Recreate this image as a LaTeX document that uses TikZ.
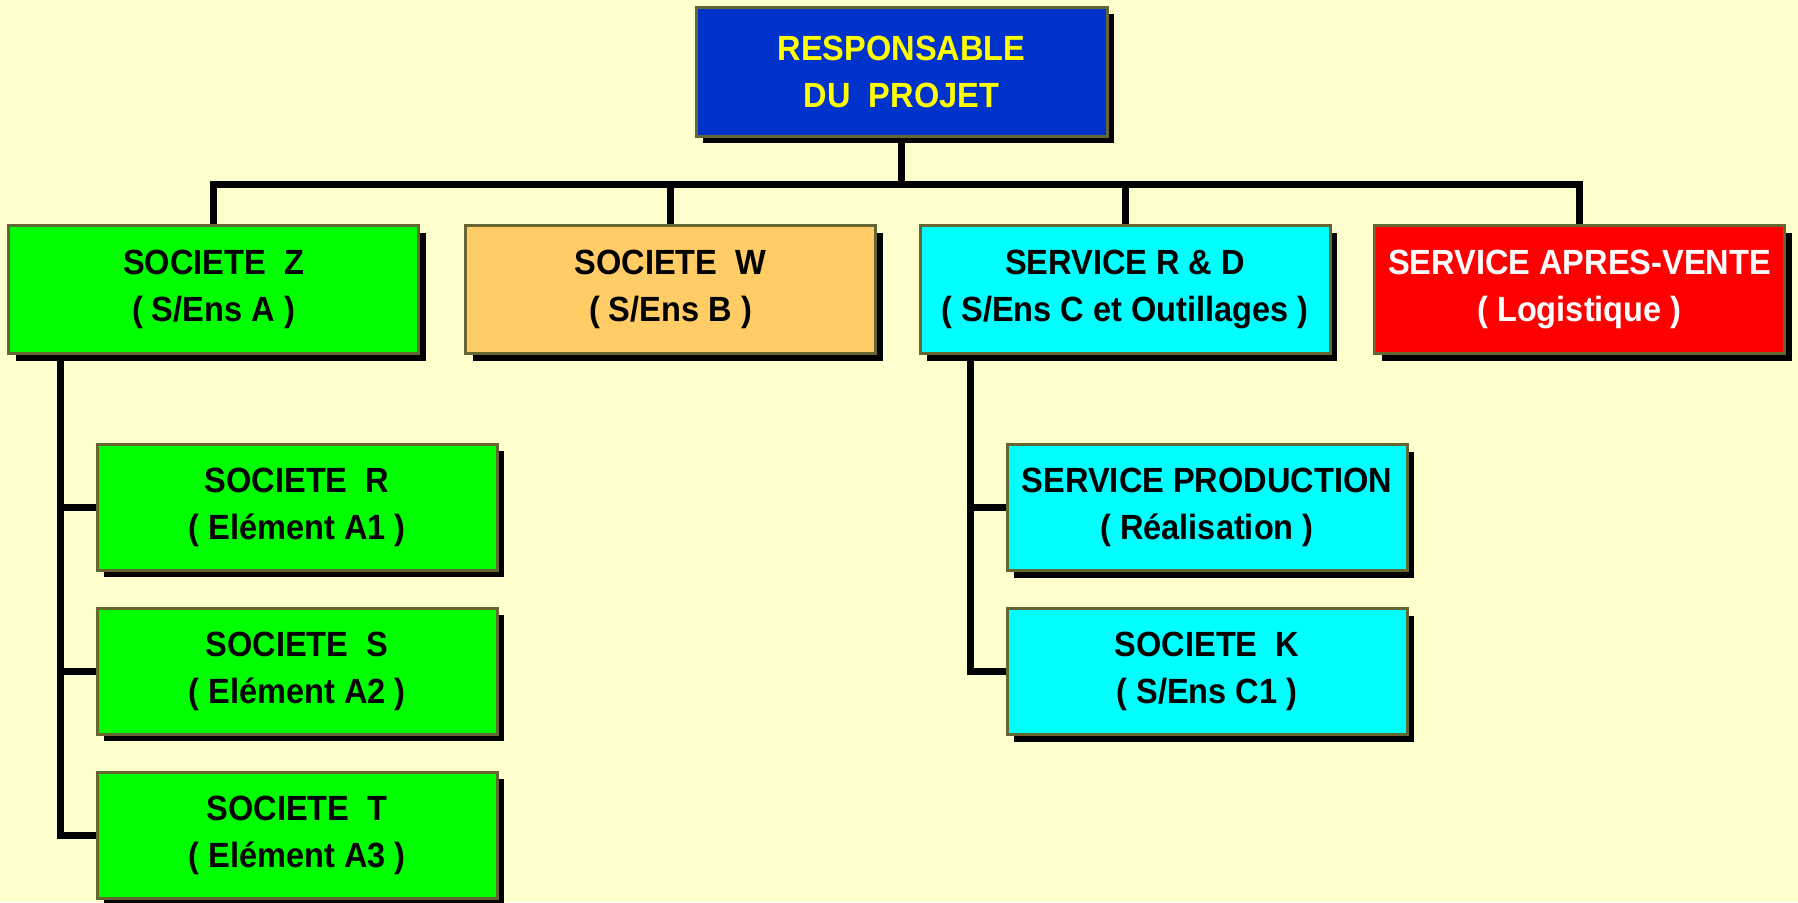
\documentclass[tikz,border=0pt]{standalone}
\usepackage{fontspec}
\setmainfont{Liberation Sans}[FakeStretch=0.93]
\usetikzlibrary{shadows}
\pgfdeclarelayer{bg}
\pgfdeclarelayer{background}
\pgfsetlayers{bg,background,main}
\definecolor{bgyellow}{RGB}{255,255,206}
\definecolor{boxborder}{RGB}{102,102,51}
\definecolor{topblue}{RGB}{0,51,204}
\definecolor{boxgreen}{RGB}{0,255,0}
\definecolor{boxtan}{RGB}{255,204,102}
\definecolor{boxcyan}{RGB}{0,255,255}
\definecolor{boxred}{RGB}{255,0,0}
\definecolor{txtyellow}{RGB}{255,255,0}
\tikzset{
  orgbox/.style={draw=boxborder, line width=3pt, rectangle, align=center,
    minimum width=410pt, minimum height=128pt, inner sep=0pt,
    font=\fontsize{35}{47}\selectfont\bfseries,
    drop shadow={shadow xshift=7pt, shadow yshift=-7pt, fill=black, opacity=1}},
  subbox/.style={orgbox, minimum width=400pt, minimum height=126pt},
  conn/.style={draw=black, line width=7pt, line join=miter}
}
\begin{document}
\begin{tikzpicture}[x=1pt,y=-1pt]
\begin{pgfonlayer}{bg}
\fill[bgyellow] (0,0) rectangle (1798,902);
\end{pgfonlayer}
\useasboundingbox (0,0) rectangle (1798,902);

\node[orgbox, fill=topblue, text=txtyellow, minimum width=411pt, minimum height=129pt] (top) at (901.5,71.5) {RESPONSABLE\\DU~~PROJET};

\node[orgbox, fill=boxgreen] (Z) at (213.5,289.5) {SOCIETE~~Z\\( S/Ens A )};
\node[orgbox, fill=boxtan] (W) at (670.5,289.5) {SOCIETE~~W\\( S/Ens B )};
\node[orgbox, fill=boxcyan] (RD) at (1125,289.5) {SERVICE R \& D\\( S/Ens C et Outillages )};
\node[orgbox, fill=boxred, text=white] (APV) at (1579.5,289.5) {SERVICE APRES-VENTE\\( Logistique )};

\node[subbox, fill=boxgreen] (R) at (297,507) {SOCIETE~~R\\( Elément A1 )};
\node[subbox, fill=boxgreen] (S) at (297,671) {SOCIETE~~S\\( Elément A2 )};
\node[subbox, fill=boxgreen] (T) at (297,835) {SOCIETE~~T\\( Elément A3 )};

\node[subbox, fill=boxcyan] (SP) at (1207,507.5) {SERVICE PRODUCTION\\( Réalisation )};
\node[subbox, fill=boxcyan] (K) at (1207,671.5) {SOCIETE~~K\\( S/Ens C1 )};

\coordinate (busY) at (0,184);
\coordinate (tl) at (60,0);
\coordinate (tr) at (970,0);

\begin{pgfonlayer}{background}
\draw[conn] (top.south) -- (top.south |- busY);
\draw[conn] (Z.north) -- (Z.north |- busY) -- (APV.north |- busY) -- (APV.north);
\draw[conn] (W.north) -- (W.north |- busY);
\draw[conn] (RD.north) -- (RD.north |- busY);
\draw[conn] (tl |- Z.south) -- (tl |- T.west) -- (T.west);
\draw[conn] (tl |- R.west) -- (R.west);
\draw[conn] (tl |- S.west) -- (S.west);
\draw[conn] (tr |- RD.south) -- (tr |- K.west) -- (K.west);
\draw[conn] (tr |- SP.west) -- (SP.west);
\end{pgfonlayer}
\end{tikzpicture}
\end{document}
